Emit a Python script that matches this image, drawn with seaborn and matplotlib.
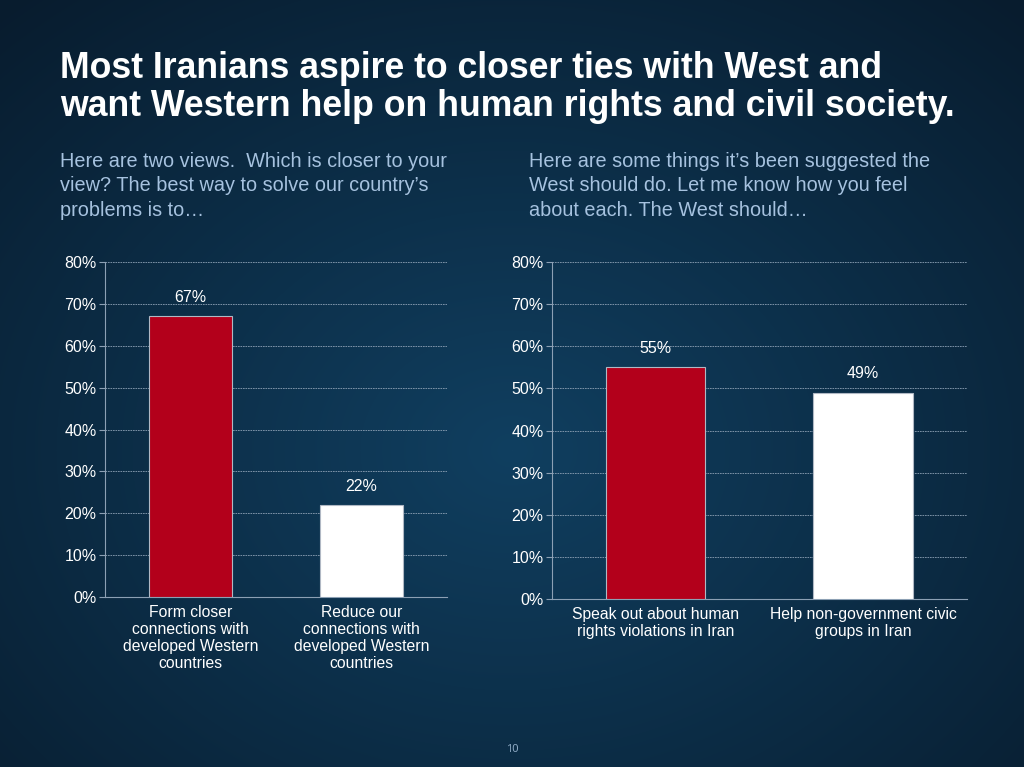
import matplotlib
matplotlib.use('Agg')
import matplotlib.pyplot as plt
import seaborn as sns
import numpy as np
import pandas as pd
from matplotlib.ticker import PercentFormatter, FixedLocator

# chart values
left_labels = ['Form closer\nconnections with\ndeveloped Western\ncountries',
               'Reduce our\nconnections with\ndeveloped Western\ncountries']
left_values = [67, 22]
right_labels = ['Speak out about human\nrights violations in Iran',
                'Help non-government civic\ngroups in Iran']
right_values = [55, 49]
bar_colors = ['#b3001b', '#ffffff']
y_ticks = [0, 10, 20, 30, 40, 50, 60, 70, 80]

title = ('Most Iranians aspire to closer ties with West and\n'
         'want Western help on human rights and civil society.')
left_question = ('Here are two views.  Which is closer to your\n'
                 'view? The best way to solve our country\u2019s\n'
                 'problems is to\u2026')
right_question = ('Here are some things it\u2019s been suggested the\n'
                  'West should do. Let me know how you feel\n'
                  'about each. The West should\u2026')

sns.set_theme(style='white')
plt.rcParams['font.family'] = ['Liberation Sans', 'DejaVu Sans']

fig = plt.figure(figsize=(10.24, 7.67), dpi=100)

# radial gradient background
bg = fig.add_axes([0, 0, 1, 1], zorder=-10)
yy, xx = np.mgrid[0:767, 0:1024]
r = np.sqrt(((xx - 512) / 760.0) ** 2 + ((yy - 450) / 600.0) ** 2)
r = np.clip(r, 0, 1)
inner = np.array([0x10, 0x3f, 0x60]) / 255
outer = np.array([0x08, 0x1c, 0x2e]) / 255
img = inner[None, None, :] * (1 - r[..., None]) + outer[None, None, :] * r[..., None]
bg.imshow(img, aspect='auto', extent=[0, 1, 0, 1])
bg.axis('off')

text_col = '#ffffff'
grid_col = '#8ca0b4'


def draw_panel(rect, labels, values):
    ax = fig.add_axes(rect)
    df = pd.DataFrame({'cat': labels, 'val': values})
    sns.barplot(data=df, x='cat', y='val', hue='cat', palette=bar_colors,
                saturation=1, width=0.48, edgecolor='#b0b8c4', linewidth=0.8,
                legend=False, ax=ax, zorder=3)
    ax.set_facecolor('none')
    ax.set_ylim(0, 80)
    ax.set_xlim(-0.5, 1.5)
    ax.yaxis.set_major_locator(FixedLocator(y_ticks))
    ax.yaxis.set_major_formatter(PercentFormatter(decimals=0))
    ax.set_xlabel('')
    ax.set_ylabel('')
    ax.grid(axis='y', color=grid_col, linestyle=(0, (2, 1)), linewidth=0.6, zorder=0)
    for s in ['top', 'right']:
        ax.spines[s].set_visible(False)
    for s in ['left', 'bottom']:
        ax.spines[s].set_color(grid_col)
        ax.spines[s].set_linewidth(0.8)
    ax.tick_params(axis='y', colors=grid_col, labelcolor=text_col, labelsize=11.5,
                   length=4, width=0.8, left=True, direction='out', pad=2)
    ax.tick_params(axis='x', which='major', length=0, labelcolor=text_col,
                   labelsize=11.3, pad=6)
    ax.set_xticks([-0.5, 0.5, 1.5], minor=True)
    ax.tick_params(axis='x', which='minor', length=4, width=0.8,
                   color=grid_col, direction='out')
    for lab in ax.get_xticklabels():
        lab.set_linespacing(1.15)
    for c in ax.containers:
        ax.bar_label(c, labels=[f'{v:.0f}%' for v in c.datavalues],
                     padding=8, color=text_col, fontsize=11.5)
    return ax


draw_panel([0.1025, 0.2216, 0.334, 0.4368], left_labels, left_values)
draw_panel([0.539, 0.219, 0.405, 0.4394], right_labels, right_values)

fig.text(60 / 1024, 1 - 51 / 767, title, fontsize=25.7, fontweight='bold',
         color='#ffffff', va='top', ha='left', linespacing=1.12)
fig.text(60 / 1024, 1 - 152 / 767, left_question, fontsize=14.3,
         color='#a6c2df', va='top', ha='left', linespacing=1.36)
fig.text(529 / 1024, 1 - 152 / 767, right_question, fontsize=14.3,
         color='#a6c2df', va='top', ha='left', linespacing=1.36)
fig.text(512 / 1024, 1 - 749 / 767, '10', fontsize=8, color='#8eaac4',
         ha='center', va='center', family=['Noto Sans', 'DejaVu Sans'])

fig.savefig('out.png', dpi=100)
